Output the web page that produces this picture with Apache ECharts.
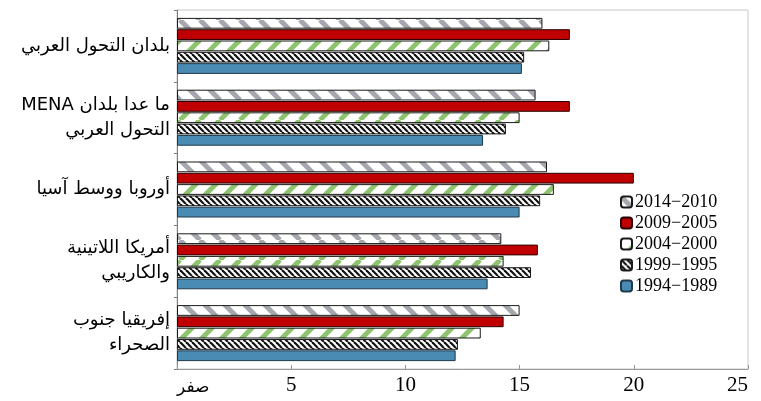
<!DOCTYPE html>
<html dir="ltr">
<head>
<meta charset="utf-8">
<script src="https://cdn.jsdelivr.net/npm/echarts@6/dist/echarts.min.js"></script>
<style>html,body{margin:0;padding:0;background:#fff;}#c{width:761px;height:401px;}</style>
</head>
<body>
<div id="c"></div>
<script>
const categories = ['بلدان التحول العربي', 'MENA ما عدا بلدان\nالتحول العربي', 'أوروبا ووسط آسيا', 'أمريكا اللاتينية\nوالكاريبي', 'إفريقيا جنوب\nالصحراء'];
const periods = ['2014−2010', '2009−2005', '2004−2000', '1999−1995', '1994−1989'];
const v2014_2010 = [16.0, 15.7, 16.2, 14.2, 15.0];
const v2009_2005 = [17.2, 17.2, 20.0, 15.8, 14.3];
const v2004_2000 = [16.3, 15.0, 16.5, 14.3, 13.3];
const v1999_1995 = [15.2, 14.4, 15.9, 15.5, 12.3];
const v1994_1989 = [15.1, 13.4, 15.0, 13.6, 12.2];
const tickLabels = {0: 'صفر', 5: '5', 10: '10', 15: '15', 20: '20', 25: '25'};

function stripes(bg, fg, size, lw, dir) {
  const c = document.createElement('canvas');
  c.width = size; c.height = size;
  const g = c.getContext('2d');
  g.fillStyle = bg; g.fillRect(0, 0, size, size);
  g.strokeStyle = fg; g.lineWidth = lw;
  for (let k = -1; k <= 1; k++) {
    g.beginPath();
    if (dir > 0) { g.moveTo(k * size, size); g.lineTo(k * size + size, 0); }
    else { g.moveTo(k * size, 0); g.lineTo(k * size + size, size); }
    g.stroke();
  }
  return {image: c, repeat: 'repeat'};
}

const styles = [
  {color: stripes('#ffffff', '#a4a7ad', 20, 5, -1), borderColor: '#1a1a1a'},
  {color: '#c00000', borderColor: '#2a0000'},
  {color: stripes('#ffffff', '#8fc46f', 20, 5, 1), borderColor: '#1a1a1a'},
  {color: stripes('#ffffff', '#111111', 6, 2.2, -1), borderColor: '#1a1a1a'},
  {color: '#4a8bb3', borderColor: '#1e3a4c'}
];
const values = [v2014_2010, v2009_2005, v2004_2000, v1999_1995, v1994_1989];

const labelFont = {fontFamily: 'DejaVu Sans', fontSize: 18, color: '#000', lineHeight: 25};

const chart = echarts.init(document.getElementById('c'));
chart.setOption({
  animation: false,
  grid: {left: 177, right: 13, top: 10, bottom: 32, show: true, borderColor: '#c8c8c8', borderWidth: 1},
  legend: {
    orient: 'vertical', left: 615, top: 188,
    itemWidth: 11, itemHeight: 11, itemGap: 3,
    icon: 'roundRect',
    data: periods,
    textStyle: {fontFamily: 'Liberation Serif', fontSize: 18, color: '#000', padding: [0, 0, 0, -2]}
  },
  xAxis: {
    type: 'value', min: 0, max: 25, interval: 5,
    axisLine: {show: true, lineStyle: {color: '#9a9a9a'}},
    axisTick: {show: true, inside: true, length: 4, lineStyle: {color: '#9a9a9a'}},
    splitLine: {show: false},
    axisLabel: {
      color: '#000', fontFamily: 'Liberation Serif', fontSize: 21, margin: 6,
      alignMinLabel: 'left', alignMaxLabel: 'right',
      formatter: v => v === 0 ? '{z|' + tickLabels[v] + '}' : tickLabels[v],
      rich: {z: {fontFamily: 'DejaVu Sans', fontSize: 17, color: '#000', padding: [4, 0, 0, 0]}}
    }
  },
  yAxis: {
    type: 'category', data: categories, inverse: true,
    axisLine: {show: true, lineStyle: {color: '#808080'}},
    axisTick: {show: true, length: 3, lineStyle: {color: '#808080'}},
    axisLabel: Object.assign({
      margin: 7, align: 'right',
      formatter: v => v.split('\n').map(line => line.replace(/^([A-Za-z]+) (.*)$/, '{l|$1 }{a|$2}')).join('\n'),
      rich: {l: labelFont, a: labelFont}
    }, labelFont)
  },
  series: periods.map((p, i) => ({
    name: p, type: 'bar', data: values[i],
    barCategoryGap: '22%', barGap: '5%',
    itemStyle: Object.assign({borderWidth: 1}, styles[i])
  }))
});
</script>
</body>
</html>
